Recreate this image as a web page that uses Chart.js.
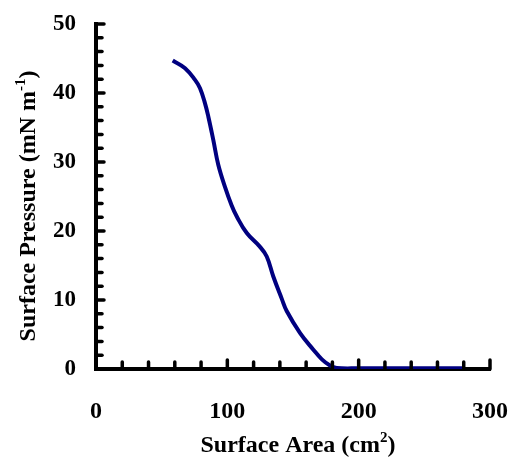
<!DOCTYPE html>
<html>
<head>
<meta charset="utf-8">
<script src="https://cdn.jsdelivr.net/npm/chart.js@4"></script>
<style>
html,body{margin:0;padding:0;background:#fff;}
#wrap{width:508px;height:462px;position:relative;}
</style>
</head>
<body>
<div id="wrap"><canvas id="c" width="508" height="462"></canvas></div>
<script>
// Data
const surfaceArea = [58.4, 67.8, 75.4, 79.2, 83.0, 85.5, 89.3, 93.1, 98.2, 103.3, 107.2, 114.8, 124.9, 130.0, 135.0, 141.4, 145.2, 155.4, 165.5, 172.0, 178.2, 183.3, 200, 220, 240, 260, 280];
const surfacePressure = [44.7, 43.6, 41.9, 40.7, 38.5, 36.6, 33.2, 29.6, 26.4, 23.7, 22.1, 19.7, 17.7, 16.3, 13.4, 10.2, 8.4, 5.2, 2.8, 1.4, 0.5, 0.15, 0.1, 0.1, 0.1, 0.1, 0.1];
const xTickValues = [0, 100, 200, 300];
const yTickValues = [0, 10, 20, 30, 40, 50];
const xTitle = {text: 'Surface Area (cm', sup: '2', tail: ')'};
const yTitle = {text: 'Surface Pressure (mN m', sup: '-1', tail: ')'};

const points = surfaceArea.map((x, i) => ({x: x, y: surfacePressure[i]}));
const FONT = '"Liberation Serif", "Times New Roman", serif';

const decor = {
  id: 'decor',
  afterDraw(chart) {
    const ctx = chart.ctx;
    const xs = chart.scales.x, ys = chart.scales.y;
    const area = chart.chartArea;
    ctx.save();
    ctx.strokeStyle = '#000';
    ctx.lineCap = 'round';
    ctx.lineWidth = 3.5;
    for (let v = 0; v <= 50; v += 2) {
      const py = ys.getPixelForValue(v);
      const len = (v % 10 === 0) ? 8 : 6;
      ctx.beginPath();
      ctx.moveTo(area.left, py);
      ctx.lineTo(area.left + len, py);
      ctx.stroke();
    }
    for (let v = 0; v <= 300; v += 20) {
      const px = xs.getPixelForValue(v);
      const len = (v % 100 === 0) ? 9 : 7;
      ctx.beginPath();
      ctx.moveTo(px, area.bottom);
      ctx.lineTo(px, area.bottom - len);
      ctx.stroke();
    }
    ctx.fillStyle = '#000';
    function drawTitle(t, cx, cy, rot) {
      ctx.save();
      ctx.translate(cx, cy);
      ctx.rotate(rot);
      ctx.font = 'bold 24px ' + FONT;
      const w1 = ctx.measureText(t.text).width;
      ctx.font = 'bold 15px ' + FONT;
      const w2 = ctx.measureText(t.sup).width;
      ctx.font = 'bold 24px ' + FONT;
      const w3 = ctx.measureText(t.tail).width;
      const total = w1 + w2 + w3;
      let x0 = -total / 2;
      ctx.textBaseline = 'alphabetic';
      ctx.textAlign = 'left';
      ctx.fillText(t.text, x0, 0);
      ctx.font = 'bold 15px ' + FONT;
      ctx.fillText(t.sup, x0 + w1, -10);
      ctx.font = 'bold 24px ' + FONT;
      ctx.fillText(t.tail, x0 + w1 + w2, 0);
      ctx.restore();
    }
    drawTitle(xTitle, 298, 452, 0);
    drawTitle(yTitle, 35, 206, -Math.PI / 2);
    ctx.restore();
  }
};

new Chart(document.getElementById('c'), {
  type: 'scatter',
  data: {
    datasets: [{
      data: points,
      showLine: true,
      borderColor: '#000080',
      backgroundColor: '#000080',
      borderWidth: 4,
      pointRadius: 0,
      tension: 0.4
    }]
  },
  options: {
    responsive: false,
    animation: false,
    devicePixelRatio: 1,
    layout: {padding: {left: 0, top: 24, right: 18, bottom: 0}},
    plugins: {legend: {display: false}, tooltip: {enabled: false}},
    scales: {
      x: {
        type: 'linear', min: 0, max: 300,
        afterFit(s) { s.height = 93; s.paddingLeft = 0; s.paddingRight = 0; },
        afterBuildTicks(s) { s.ticks = xTickValues.map(v => ({value: v})); },
        grid: {display: false, drawTicks: false},
        border: {display: true, color: '#000', width: 4},
        ticks: {color: '#000', padding: 28, maxRotation: 0, autoSkip: false, font: {family: FONT, size: 24, weight: 'bold'}}
      },
      y: {
        type: 'linear', min: 0, max: 50,
        afterFit(s) { s.width = 96; s.paddingTop = 0; s.paddingBottom = 0; },
        afterBuildTicks(s) { s.ticks = yTickValues.map(v => ({value: v})); },
        grid: {display: false, drawTicks: false},
        border: {display: true, color: '#000', width: 4},
        ticks: {color: '#000', padding: 20, autoSkip: false, font: {family: FONT, size: 23, weight: 'bold'}}
      }
    }
  },
  plugins: [decor]
});
</script>
</body>
</html>
